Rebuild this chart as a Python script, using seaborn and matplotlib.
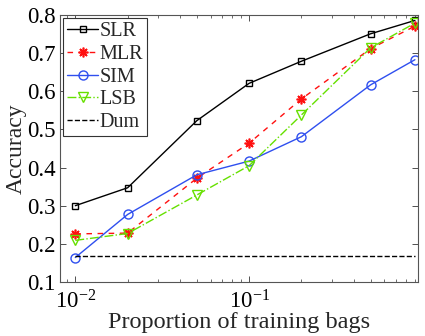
import numpy as np
import pandas as pd
import matplotlib
matplotlib.use("Agg")
import matplotlib.pyplot as plt
import seaborn as sns
from matplotlib.ticker import LogLocator, NullFormatter, MultipleLocator, FormatStrFormatter

# Data
proportions = [0.01, 0.02, 0.05, 0.1, 0.2, 0.5, 0.9]
slr = [0.300, 0.347, 0.523, 0.621, 0.679, 0.751, 0.786]
mlr = [0.226, 0.228, 0.372, 0.464, 0.580, 0.712, 0.771]
sim = [0.164, 0.277, 0.381, 0.417, 0.481, 0.617, 0.683]
lsb = [0.209, 0.227, 0.328, 0.405, 0.538, 0.714, 0.779]
dum = [0.167] * len(proportions)
series_names = ["SLR", "MLR", "SIM", "LSB", "Dum"]
x_label = "Proportion of training bags"
y_label = "Accuracy"

sns.set_style("ticks")
plt.rcParams["font.family"] = ["Liberation Serif", "DejaVu Serif"]
plt.rcParams["mathtext.fontset"] = "custom"
plt.rcParams["mathtext.rm"] = "Liberation Serif"
plt.rcParams["mathtext.it"] = "Liberation Serif"

fig = plt.figure(figsize=(4.25, 3.36), dpi=100)
ax = fig.add_axes([0.142, 0.161, 0.842, 0.794])

styles = {
    "SLR": dict(color="black", marker="s", linestyle="-", markersize=5),
    "MLR": dict(color="#ff1010", marker=(8, 2, 0), linestyle=(0, (4, 4)), markersize=7),
    "SIM": dict(color="#2f4fef", marker="o", linestyle="-", markersize=6.5),
    "LSB": dict(color="#66e000", marker="v", linestyle="-.", markersize=7),
    "Dum": dict(color="black", marker=None, linestyle="--", markersize=0),
}
values = {"SLR": slr, "MLR": mlr, "SIM": sim, "LSB": lsb, "Dum": dum}

for name in series_names:
    st = styles[name]
    df = pd.DataFrame({"x": proportions, "y": values[name]})
    kw = dict(color=st["color"], linestyle=st["linestyle"], linewidth=1.0, label=name)
    if st["marker"] is not None:
        kw.update(marker=st["marker"], markersize=st["markersize"],
                  markerfacecolor="none", markeredgecolor=st["color"],
                  markeredgewidth=1.2 if name == "MLR" else 1.0)
    sns.lineplot(data=df, x="x", y="y", ax=ax, **kw)

ax.set_xscale("log")
ax.set_xlim(0.0082, 0.94)
ax.set_ylim(0.1, 0.8)
ax.yaxis.set_major_locator(MultipleLocator(0.1))
ax.yaxis.set_major_formatter(FormatStrFormatter("%.1f"))
ax.xaxis.set_major_locator(LogLocator(base=10))
ax.xaxis.set_minor_locator(LogLocator(base=10, subs=np.arange(2, 10)))
ax.xaxis.set_minor_formatter(NullFormatter())

ax.tick_params(which="both", direction="in", top=True, right=True,
               labelsize=16.5, colors="#333333", labelcolor="black")
ax.tick_params(axis="x", which="major", pad=6)
ax.tick_params(which="major", length=4, width=0.6)
ax.tick_params(which="minor", length=2, width=0.5)
for sp in ax.spines.values():
    sp.set_linewidth(0.8)
    sp.set_color("#555555")

ax.set_xlabel(x_label, fontsize=17.5, labelpad=-1)
ax.set_ylabel(y_label, fontsize=17, labelpad=0)

leg = ax.legend(loc="upper left", fontsize=14.5, frameon=True, fancybox=False,
                borderaxespad=0.15, handlelength=1.5, handletextpad=0.1,
                labelspacing=0.18, borderpad=0.2)
leg.get_frame().set_edgecolor("#333333")
leg.get_frame().set_linewidth(0.8)
leg.get_frame().set_alpha(1)

fig.savefig("out.png", dpi=100)
